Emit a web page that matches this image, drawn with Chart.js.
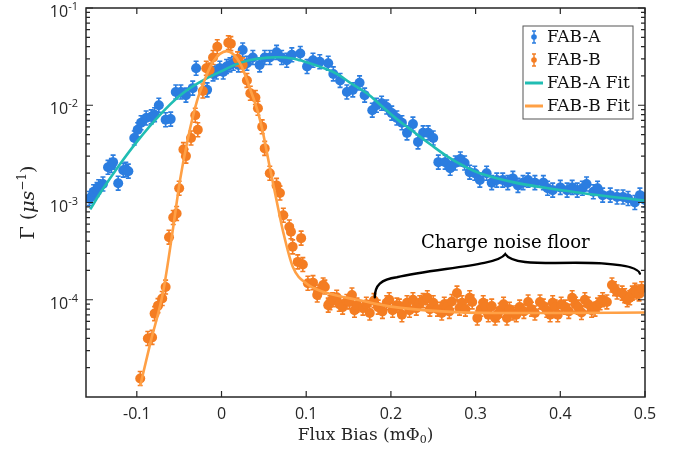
<!DOCTYPE html>
<html>
<head>
<meta charset="utf-8">
<script src="https://cdn.jsdelivr.net/npm/chart.js@4.4.1/dist/chart.umd.min.js"></script>
<style>
    html, body { margin: 0; padding: 0; background: #fff; }
    #wrap { width: 683px; height: 453px; }
</style>
</head>
<body>
<div id="wrap"><canvas id="rateChart" width="683" height="453"></canvas></div>
<script>
// measured points, FAB-A
const fabA_x = [-0.156, -0.153, -0.151, -0.147, -0.145, -0.140, -0.134, -0.130, -0.128, -0.122, -0.116, -0.113, -0.110,
    -0.103, -0.099, -0.095, -0.089, -0.083, -0.079, -0.074, -0.066, -0.060, -0.054, -0.048, -0.042, -0.034, -0.030,
    -0.017, -0.010, -0.006, -0.002, 0.002, 0.006, 0.010, 0.014, 0.020, 0.025, 0.030, 0.037, 0.045, 0.051, 0.057,
    0.065, 0.071, 0.077, 0.083, 0.093, 0.101, 0.108, 0.116, 0.126, 0.132, 0.140, 0.148, 0.155, 0.163, 0.169, 0.178,
    0.183, 0.189, 0.195, 0.201, 0.207, 0.213, 0.219, 0.226, 0.232, 0.238, 0.244, 0.250, 0.256, 0.264, 0.270, 0.276,
    0.282, 0.287, 0.293, 0.299, 0.305, 0.313, 0.319, 0.325, 0.332, 0.338, 0.344, 0.350, 0.356, 0.362, 0.370, 0.380,
    0.385, 0.391, 0.400, 0.408, 0.414, 0.420, 0.426, 0.431, 0.439, 0.444, 0.450, 0.459, 0.467, 0.474, 0.480, 0.488,
    0.494, 0.500];
const fabA_y = [1.10e-3, 1.16e-3, 1.29e-3, 1.36e-3, 1.45e-3, 1.55e-3, 2.3e-3, 2.4e-3, 2.6e-3, 1.58e-3, 2.15e-3, 2.2e-3, 2.1e-3,
    4.6e-3, 5.6e-3, 6.6e-3, 7.4e-3, 7.6e-3, 8.0e-3, 1.0e-2, 7.1e-3, 7.2e-3, 1.37e-2, 1.37e-2, 1.27e-2, 1.5e-2, 2.4e-2,
    1.44e-2, 2.1e-2, 2.2e-2, 2.4e-2, 2.2e-2, 2.5e-2, 2.6e-2, 2.7e-2, 2.6e-2, 3.7e-2, 2.7e-2, 3.1e-2, 2.6e-2, 3.1e-2, 3.1e-2,
    3.5e-2, 3.1e-2, 2.9e-2, 3.3e-2, 3.4e-2, 2.5e-2, 2.9e-2, 2.8e-2, 2.7e-2, 2.1e-2, 1.8e-2, 1.37e-2, 1.44e-2, 1.7e-2, 1.27e-2, 8.9e-3,
    1.0e-2, 1.05e-2, 9.6e-3, 8.3e-3, 7.4e-3, 6.6e-3, 5.2e-3, 6.4e-3, 4.2e-3, 5.2e-3, 5.2e-3, 4.6e-3, 2.6e-3, 2.6e-3, 2.25e-3, 2.55e-3,
    2.8e-3, 2.55e-3, 2.05e-3, 2.0e-3, 1.7e-3, 2.0e-3, 1.6e-3, 1.7e-3, 1.7e-3, 1.6e-3, 1.77e-3, 1.5e-3, 1.6e-3, 1.7e-3, 1.6e-3, 1.6e-3,
    1.4e-3, 1.34e-3, 1.43e-3, 1.34e-3, 1.43e-3, 1.34e-3, 1.4e-3, 1.55e-3, 1.29e-3, 1.4e-3, 1.19e-3, 1.19e-3, 1.14e-3, 1.14e-3, 1.1e-3, 1.0e-3,
    1.19e-3, 1.06e-3];

// measured points, FAB-B
const fabB_x = [-0.096, -0.087, -0.082, -0.079, -0.075, -0.070, -0.066, -0.062, -0.057, -0.053, -0.050, -0.045, -0.042,
    -0.036, -0.031, -0.028, -0.022, -0.018, -0.014, -0.010, -0.005, 0.008, 0.011, 0.019, 0.025, 0.030, 0.034, 0.040,
    0.043, 0.048, 0.051, 0.057, 0.065, 0.069, 0.073, 0.080, 0.082, 0.084, 0.090, 0.094, 0.096, 0.102, 0.108, 0.113,
    0.114, 0.120, 0.122, 0.126, 0.128, 0.131, 0.136, 0.139, 0.143, 0.148, 0.151, 0.154, 0.157, 0.160, 0.167, 0.171,
    0.175, 0.180, 0.185, 0.190, 0.195, 0.198, 0.202, 0.207, 0.210, 0.213, 0.219, 0.222, 0.226, 0.230, 0.234, 0.238,
    0.243, 0.246, 0.250, 0.255, 0.260, 0.263, 0.266, 0.269, 0.272, 0.278, 0.281, 0.284, 0.288, 0.293, 0.296, 0.302,
    0.306, 0.309, 0.312, 0.315, 0.319, 0.323, 0.326, 0.329, 0.333, 0.337, 0.340, 0.344, 0.348, 0.352, 0.357, 0.362,
    0.366, 0.370, 0.376, 0.380, 0.384, 0.388, 0.391, 0.394, 0.397, 0.401, 0.406, 0.410, 0.414, 0.418, 0.421, 0.425,
    0.429, 0.433, 0.437, 0.441, 0.444, 0.447, 0.450, 0.455, 0.461, 0.464, 0.467, 0.473, 0.476, 0.479, 0.482, 0.485,
    0.488, 0.490, 0.493, 0.496];
const fabB_y = [1.55e-5, 4.0e-5, 4.1e-5, 7.2e-5, 8.7e-5, 1.03e-4, 1.35e-4, 4.4e-4, 7.0e-4, 7.7e-4, 1.4e-3, 3.5e-3, 3.0e-3,
    4.6e-3, 7.9e-3, 5.6e-3, 1.4e-2, 2.4e-2, 2.3e-2, 3.1e-2, 4.0e-2, 4.4e-2, 4.3e-2, 3.0e-2, 2.6e-2, 1.8e-2, 1.33e-2, 1.2e-2,
    9.3e-3, 6.0e-3, 3.6e-3, 2.0e-3, 1.5e-3, 1.25e-3, 7.4e-4, 5.6e-4, 5.0e-4, 3.5e-4, 2.45e-4, 4.3e-4, 2.3e-4, 1.48e-4, 1.5e-4, 1.12e-4,
    1.2e-4, 1.42e-4, 1.35e-4, 8.8e-5, 9.3e-5, 1.0e-4, 1.06e-4, 9.0e-5, 8.4e-5, 9.6e-5, 9.5e-5, 1.12e-4, 7.8e-5, 8.8e-5, 8.2e-5, 9.0e-5,
    7.3e-5, 9.8e-5, 8.4e-5, 7.6e-5, 9.3e-5, 1.0e-4, 7.8e-5, 8.8e-5, 8.6e-5, 7.0e-5, 9.3e-5, 7.8e-5, 1.0e-4, 8.2e-5, 9.3e-5, 9.8e-5,
    1.05e-4, 8.0e-5, 9.3e-5, 8.0e-5, 7.3e-5, 9.0e-5, 8.4e-5, 7.6e-5, 9.6e-5, 1.17e-4, 8.2e-5, 9.3e-5, 8.0e-5, 1.05e-4, 9.5e-5, 6.5e-5,
    8.0e-5, 9.3e-5, 8.4e-5, 7.0e-5, 8.6e-5, 6.5e-5, 7.0e-5, 7.8e-5, 9.0e-5, 6.5e-5, 8.0e-5, 7.3e-5, 7.0e-5, 8.4e-5, 7.6e-5, 9.5e-5,
    8.0e-5, 7.3e-5, 9.5e-5, 8.6e-5, 7.8e-5, 7.0e-5, 9.3e-5, 8.4e-5, 7.0e-5, 9.0e-5, 8.4e-5, 7.6e-5, 1.05e-4, 9.0e-5, 8.4e-5, 7.4e-5,
    1.0e-4, 9.0e-5, 7.8e-5, 8.0e-5, 8.8e-5, 9.3e-5, 1.0e-4, 9.5e-5, 1.42e-4, 1.3e-4, 1.2e-4, 1.17e-4, 1.1e-4, 1.0e-4, 1.05e-4, 1.17e-4,
    1.25e-4, 1.2e-4, 1.15e-4, 1.3e-4];

// fit curves
const fitA_x = [-0.155, -0.143, -0.121, -0.100, -0.073, -0.049, -0.025, 0.000, 0.017, 0.034, 0.054, 0.075, 0.093, 0.132,
    0.152, 0.172, 0.187, 0.207, 0.226, 0.246, 0.266, 0.285, 0.305, 0.344, 0.384, 0.423, 0.462, 0.500];
const fitA_y = [8.5e-4, 1.26e-3, 2.4e-3, 4.2e-3, 7.9e-3, 1.26e-2, 1.74e-2, 2.24e-2, 2.63e-2, 2.92e-2, 3.09e-2, 3.1e-2, 2.9e-2, 2.2e-2,
    1.7e-2, 1.32e-2, 1.02e-2, 7.2e-3, 5.4e-3, 4.0e-3, 3.0e-3, 2.4e-3, 2.0e-3, 1.62e-3, 1.41e-3, 1.26e-3, 1.14e-3, 1.05e-3];
const fitB_x = [-0.096, -0.084, -0.069, -0.057, -0.049, -0.040, -0.029, -0.018, -0.010, 0.006, 0.022, 0.034, 0.043, 0.049,
    0.057, 0.065, 0.073, 0.084, 0.101, 0.128, 0.160, 0.200, 0.260, 0.320, 0.400, 0.500];
const fitB_y = [1.3e-5, 3.6e-5, 1.2e-4, 5.6e-4, 1.7e-3, 4.4e-3, 1.1e-2, 2.0e-2, 2.8e-2, 3.6e-2, 2.7e-2, 1.45e-2, 8.5e-3, 5.2e-3,
    2.3e-3, 1.05e-3, 4.9e-4, 2.2e-4, 1.45e-4, 1.15e-4, 1.0e-4, 8.5e-5, 7.6e-5, 7.3e-5, 7.3e-5, 7.4e-5];

const seriesNames = ['FAB-A', 'FAB-B', 'FAB-A Fit', 'FAB-B Fit'];
const xTicks = [-0.1, 0, 0.1, 0.2, 0.3, 0.4, 0.5];
const xTickLabels = ['-0.1', '0', '0.1', '0.2', '0.3', '0.4', '0.5'];
const yTicks = [1e-1, 1e-2, 1e-3, 1e-4];
const yTickExp = ['-1', '-2', '-3', '-4'];
const relErr = 0.18; // error bar half size (relative)

const blue = '#2b7de0';
const orange = '#f47d22';
const teal = '#20bdb3';
const lightOrange = '#ffa045';
const ink = '#262626';

function pairs(xs, ys) {
    return xs.map((x, i) => ({ x: x, y: ys[i] }));
}

// error bars, axes frame, ticks, labels, legend and the brace
const decorations = {
    id: 'decorations',
    beforeDatasetDraw(chart, args) {
        const ds = chart.data.datasets[args.index];
        if (!ds.errorBar) return;
        const ctx = chart.ctx;
        const ys = chart.scales.y;
        const area = chart.chartArea;
        ctx.save();
        ctx.beginPath();
        ctx.rect(area.left, area.top, area.right - area.left, area.bottom - area.top);
        ctx.clip();
        ctx.strokeStyle = ds.backgroundColor;
        ctx.lineWidth = 1.6;
        args.meta.data.forEach(function (pt, i) {
            const v = ds.data[i].y;
            const y1 = ys.getPixelForValue(v * (1 + relErr));
            const y2 = ys.getPixelForValue(v / (1 + relErr));
            ctx.beginPath();
            ctx.moveTo(pt.x, y1); ctx.lineTo(pt.x, y2);
            ctx.moveTo(pt.x - 2.5, y1); ctx.lineTo(pt.x + 2.5, y1);
            ctx.moveTo(pt.x - 2.5, y2); ctx.lineTo(pt.x + 2.5, y2);
            ctx.stroke();
        });
        ctx.restore();
    },
    afterDraw(chart) {
        const ctx = chart.ctx;
        const a = chart.chartArea;
        const xs = chart.scales.x;
        const ys = chart.scales.y;
        ctx.save();

        // frame
        ctx.strokeStyle = ink;
        ctx.lineWidth = 1.5;
        ctx.strokeRect(a.left, a.top, a.right - a.left, a.bottom - a.top);

        // x ticks (inward, top and bottom)
        ctx.lineWidth = 1.2;
        ctx.fillStyle = ink;
        ctx.font = '16px "Open Sans"';
        ctx.textAlign = 'center';
        ctx.textBaseline = 'alphabetic';
        xTicks.forEach(function (v, i) {
            const px = xs.getPixelForValue(v);
            ctx.beginPath();
            ctx.moveTo(px, a.bottom); ctx.lineTo(px, a.bottom - 6);
            ctx.moveTo(px, a.top); ctx.lineTo(px, a.top + 6);
            ctx.stroke();
            ctx.fillText(xTickLabels[i], px, a.bottom + 22);
        });

        // y ticks: minor on every 1..9 x decade, major with labels
        for (let e = -5; e <= -2; e++) {
            for (let k = 2; k <= 9; k++) {
                const py = ys.getPixelForValue(k * Math.pow(10, e));
                ctx.beginPath();
                ctx.moveTo(a.left, py); ctx.lineTo(a.left + 4, py);
                ctx.moveTo(a.right, py); ctx.lineTo(a.right - 4, py);
                ctx.stroke();
            }
        }
        yTicks.forEach(function (v, i) {
            const py = ys.getPixelForValue(v);
            ctx.beginPath();
            ctx.moveTo(a.left, py); ctx.lineTo(a.left + 7, py);
            ctx.moveTo(a.right, py); ctx.lineTo(a.right - 7, py);
            ctx.stroke();
            ctx.textAlign = 'left';
            ctx.font = '11px "Open Sans"';
            const ew = ctx.measureText(yTickExp[i]).width;
            ctx.font = '16px "Open Sans"';
            const bw = ctx.measureText('10').width;
            const right = a.left - 8;
            ctx.fillText('10', right - ew - bw, py + 9);
            ctx.font = '11px "Open Sans"';
            ctx.fillText(yTickExp[i], right - ew, py + 2);
        });

        // x title
        const serif = '"DejaVu Serif"';
        ctx.font = '17px ' + serif;
        const t1 = 'Flux Bias (mΦ';
        const w1 = ctx.measureText(t1).width;
        ctx.font = '11px ' + serif;
        const w2 = ctx.measureText('0').width;
        ctx.font = '17px ' + serif;
        const w3 = ctx.measureText(')').width;
        let tx = (a.left + a.right) / 2 - (w1 + w2 + w3) / 2;
        const ty = a.bottom + 43;
        ctx.textAlign = 'left';
        ctx.fillText(t1, tx, ty);
        ctx.font = '11px ' + serif;
        ctx.fillText('0', tx + w1, ty + 3);
        ctx.font = '17px ' + serif;
        ctx.fillText(')', tx + w1 + w2, ty);

        // y title, rotated
        const parts = [
            { t: 'Γ (', f: '19px ' + serif, dy: 0 },
            { t: 'μs', f: 'italic 19px ' + serif, dy: 0 },
            { t: '−1', f: '12px ' + serif, dy: -8 },
            { t: ')', f: '19px ' + serif, dy: 0 }
        ];
        let total = 0;
        parts.forEach(function (p) { ctx.font = p.f; p.w = ctx.measureText(p.t).width; total += p.w; });
        ctx.save();
        ctx.translate(34, (a.top + a.bottom) / 2);
        ctx.rotate(-Math.PI / 2);
        let cx = -total / 2;
        parts.forEach(function (p) { ctx.font = p.f; ctx.fillText(p.t, cx, p.dy); cx += p.w; });
        ctx.restore();

        // legend box
        const lx = a.right - 122, ly = a.top + 18, lw = 110, lh = 93;
        ctx.fillStyle = '#fff';
        ctx.fillRect(lx, ly, lw, lh);
        ctx.strokeStyle = '#555';
        ctx.lineWidth = 1;
        ctx.strokeRect(lx, ly, lw, lh);
        const sets = chart.data.datasets;
        sets.forEach(function (ds, i) {
            const ey = ly + 11 + i * 23;
            const col = ds.errorBar ? ds.backgroundColor : ds.borderColor;
            ctx.strokeStyle = col;
            ctx.fillStyle = col;
            if (ds.errorBar) {
                ctx.lineWidth = 1.4;
                ctx.beginPath();
                ctx.moveTo(lx + 11, ey - 6); ctx.lineTo(lx + 11, ey + 6);
                ctx.moveTo(lx + 9, ey - 6); ctx.lineTo(lx + 13, ey - 6);
                ctx.moveTo(lx + 9, ey + 6); ctx.lineTo(lx + 13, ey + 6);
                ctx.stroke();
                ctx.beginPath();
                ctx.arc(lx + 11, ey, 2.8, 0, Math.PI * 2);
                ctx.fill();
            } else {
                ctx.lineWidth = 3;
                ctx.beginPath();
                ctx.moveTo(lx + 2, ey); ctx.lineTo(lx + 20, ey);
                ctx.stroke();
            }
            ctx.fillStyle = '#111';
            ctx.font = '17px ' + serif;
            ctx.textAlign = 'left';
            ctx.textBaseline = 'middle';
            ctx.fillText(ds.label, lx + 24, ey + 1);
        });

        // curly brace over the noise floor
        const L = { x: xs.getPixelForValue(0.181), y: ys.getPixelForValue(1.06e-4) };
        const M = { x: xs.getPixelForValue(0.335), y: ys.getPixelForValue(2.95e-4) };
        const R = { x: xs.getPixelForValue(0.494), y: ys.getPixelForValue(1.86e-4) };
        ctx.strokeStyle = '#000';
        ctx.lineWidth = 2.4;
        ctx.lineCap = 'round';
        ctx.beginPath();
        ctx.moveTo(L.x, L.y);
        ctx.bezierCurveTo(L.x, L.y - 12, L.x + 6, L.y - 18, L.x + 22, L.y - 20);
        ctx.bezierCurveTo(M.x - 70, M.y + 14, M.x - 8, M.y + 12, M.x, M.y);
        ctx.bezierCurveTo(M.x + 6, M.y + 9, M.x + 30, M.y + 9, M.x + 50, M.y + 9);
        ctx.bezierCurveTo(R.x - 60, R.y - 11, R.x - 4, R.y - 12, R.x, R.y);
        ctx.stroke();

        ctx.fillStyle = '#000';
        ctx.font = '18px ' + serif;
        ctx.textAlign = 'center';
        ctx.textBaseline = 'alphabetic';
        ctx.fillText('Charge noise floor', M.x, M.y - 6);
        ctx.restore();
    }
};

const chart = new Chart(document.getElementById('rateChart'), {
    type: 'scatter',
    data: {
        datasets: [
            { label: seriesNames[0], data: pairs(fabA_x, fabA_y), backgroundColor: blue, borderWidth: 0,
              pointRadius: 5, errorBar: true, order: 4 },
            { label: seriesNames[1], data: pairs(fabB_x, fabB_y), backgroundColor: orange, borderWidth: 0,
              pointRadius: 5, errorBar: true, order: 3 },
            { label: seriesNames[2], data: pairs(fitA_x, fitA_y), showLine: true, borderColor: teal, borderWidth: 2.6,
              pointRadius: 0, tension: 0.4, order: 2 },
            { label: seriesNames[3], data: pairs(fitB_x, fitB_y), showLine: true, borderColor: lightOrange, borderWidth: 2.6,
              pointRadius: 0, cubicInterpolationMode: 'monotone', order: 1 }
        ]
    },
    options: {
        responsive: false,
        animation: false,
        devicePixelRatio: 1,
        layout: { padding: { top: 8, right: 38, left: 0, bottom: 0 } },
        plugins: { legend: { display: false }, tooltip: { enabled: false } },
        scales: {
            x: {
                type: 'linear', min: -0.16, max: 0.5,
                ticks: { display: false },
                grid: { display: false },
                border: { display: false },
                afterFit(scale) { scale.height = 56; }
            },
            y: {
                type: 'logarithmic', min: 1e-5, max: 1e-1,
                ticks: { display: false },
                grid: { display: false },
                border: { display: false },
                afterFit(scale) { scale.width = 86; }
            }
        }
    },
    plugins: [decorations]
});
</script>
</body>
</html>
